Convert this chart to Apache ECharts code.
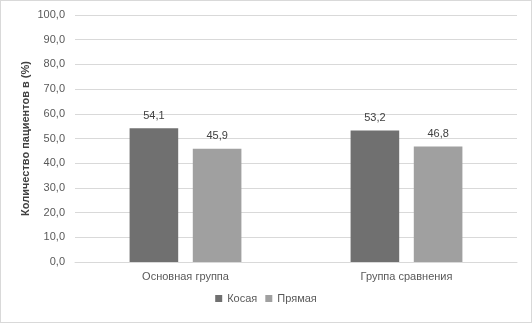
<!DOCTYPE html>
<html>
<head>
<meta charset="utf-8">
<script src="https://cdn.jsdelivr.net/npm/echarts@6/dist/echarts.min.js"></script>
<style>
  html, body { margin: 0; padding: 0; background: #fff; }
  #chart { width: 532px; height: 323px; box-sizing: border-box; border: 1px solid #d9d9d9; }
</style>
</head>
<body>
<div id="chart"></div>
<script>
const categories = ['Основная группа', 'Группа сравнения'];
const kosaya = [54.1, 53.2];
const pryamaya = [45.9, 46.8];
const seriesNames = ['Косая', 'Прямая'];

const chart = echarts.init(document.getElementById('chart'));
const font = 'Liberation Sans';
const fmt = v => v.toFixed(1).replace('.', ',');

const option = {
  textStyle: { fontFamily: font },
  animation: false,
  legend: {
    data: seriesNames,
    bottom: 13,
    left: 'center',
    itemWidth: 7,
    itemHeight: 7,
    itemGap: 8,
    icon: 'rect',
    textStyle: { color: '#595959', fontSize: 11, fontFamily: font }
  },
  grid: { left: 74, right: 14, top: 14, bottom: 60 },
  xAxis: {
    type: 'category',
    data: categories,
    axisTick: { show: false },
    axisLine: { lineStyle: { color: '#d9d9d9' } },
    axisLabel: { color: '#595959', fontSize: 11, margin: 9 }
  },
  yAxis: {
    type: 'value',
    min: 0,
    max: 100,
    interval: 10,
    name: 'Количество пациентов в (%)',
    nameLocation: 'middle',
    nameGap: 44,
    nameMoveOverlap: false,
    nameTextStyle: { color: '#404040', fontSize: 11, fontWeight: 'bold' },
    axisLine: { show: false },
    axisTick: { show: false },
    axisLabel: { color: '#595959', fontSize: 11, formatter: v => fmt(v), margin: 10 },
    splitLine: { lineStyle: { color: '#d9d9d9' } }
  },
  series: [
    {
      name: seriesNames[0],
      type: 'bar',
      data: kosaya,
      barWidth: '22%',
      barGap: '30%',
      itemStyle: { color: '#707070' },
      label: { show: true, position: 'top', distance: 7, color: '#404040', fontSize: 11, formatter: p => fmt(p.value) }
    },
    {
      name: seriesNames[1],
      type: 'bar',
      data: pryamaya,
      barWidth: '22%',
      itemStyle: { color: '#a0a0a0' },
      label: { show: true, position: 'top', distance: 7, color: '#404040', fontSize: 11, formatter: p => fmt(p.value) }
    }
  ]
};

chart.setOption(option);
</script>
</body>
</html>
